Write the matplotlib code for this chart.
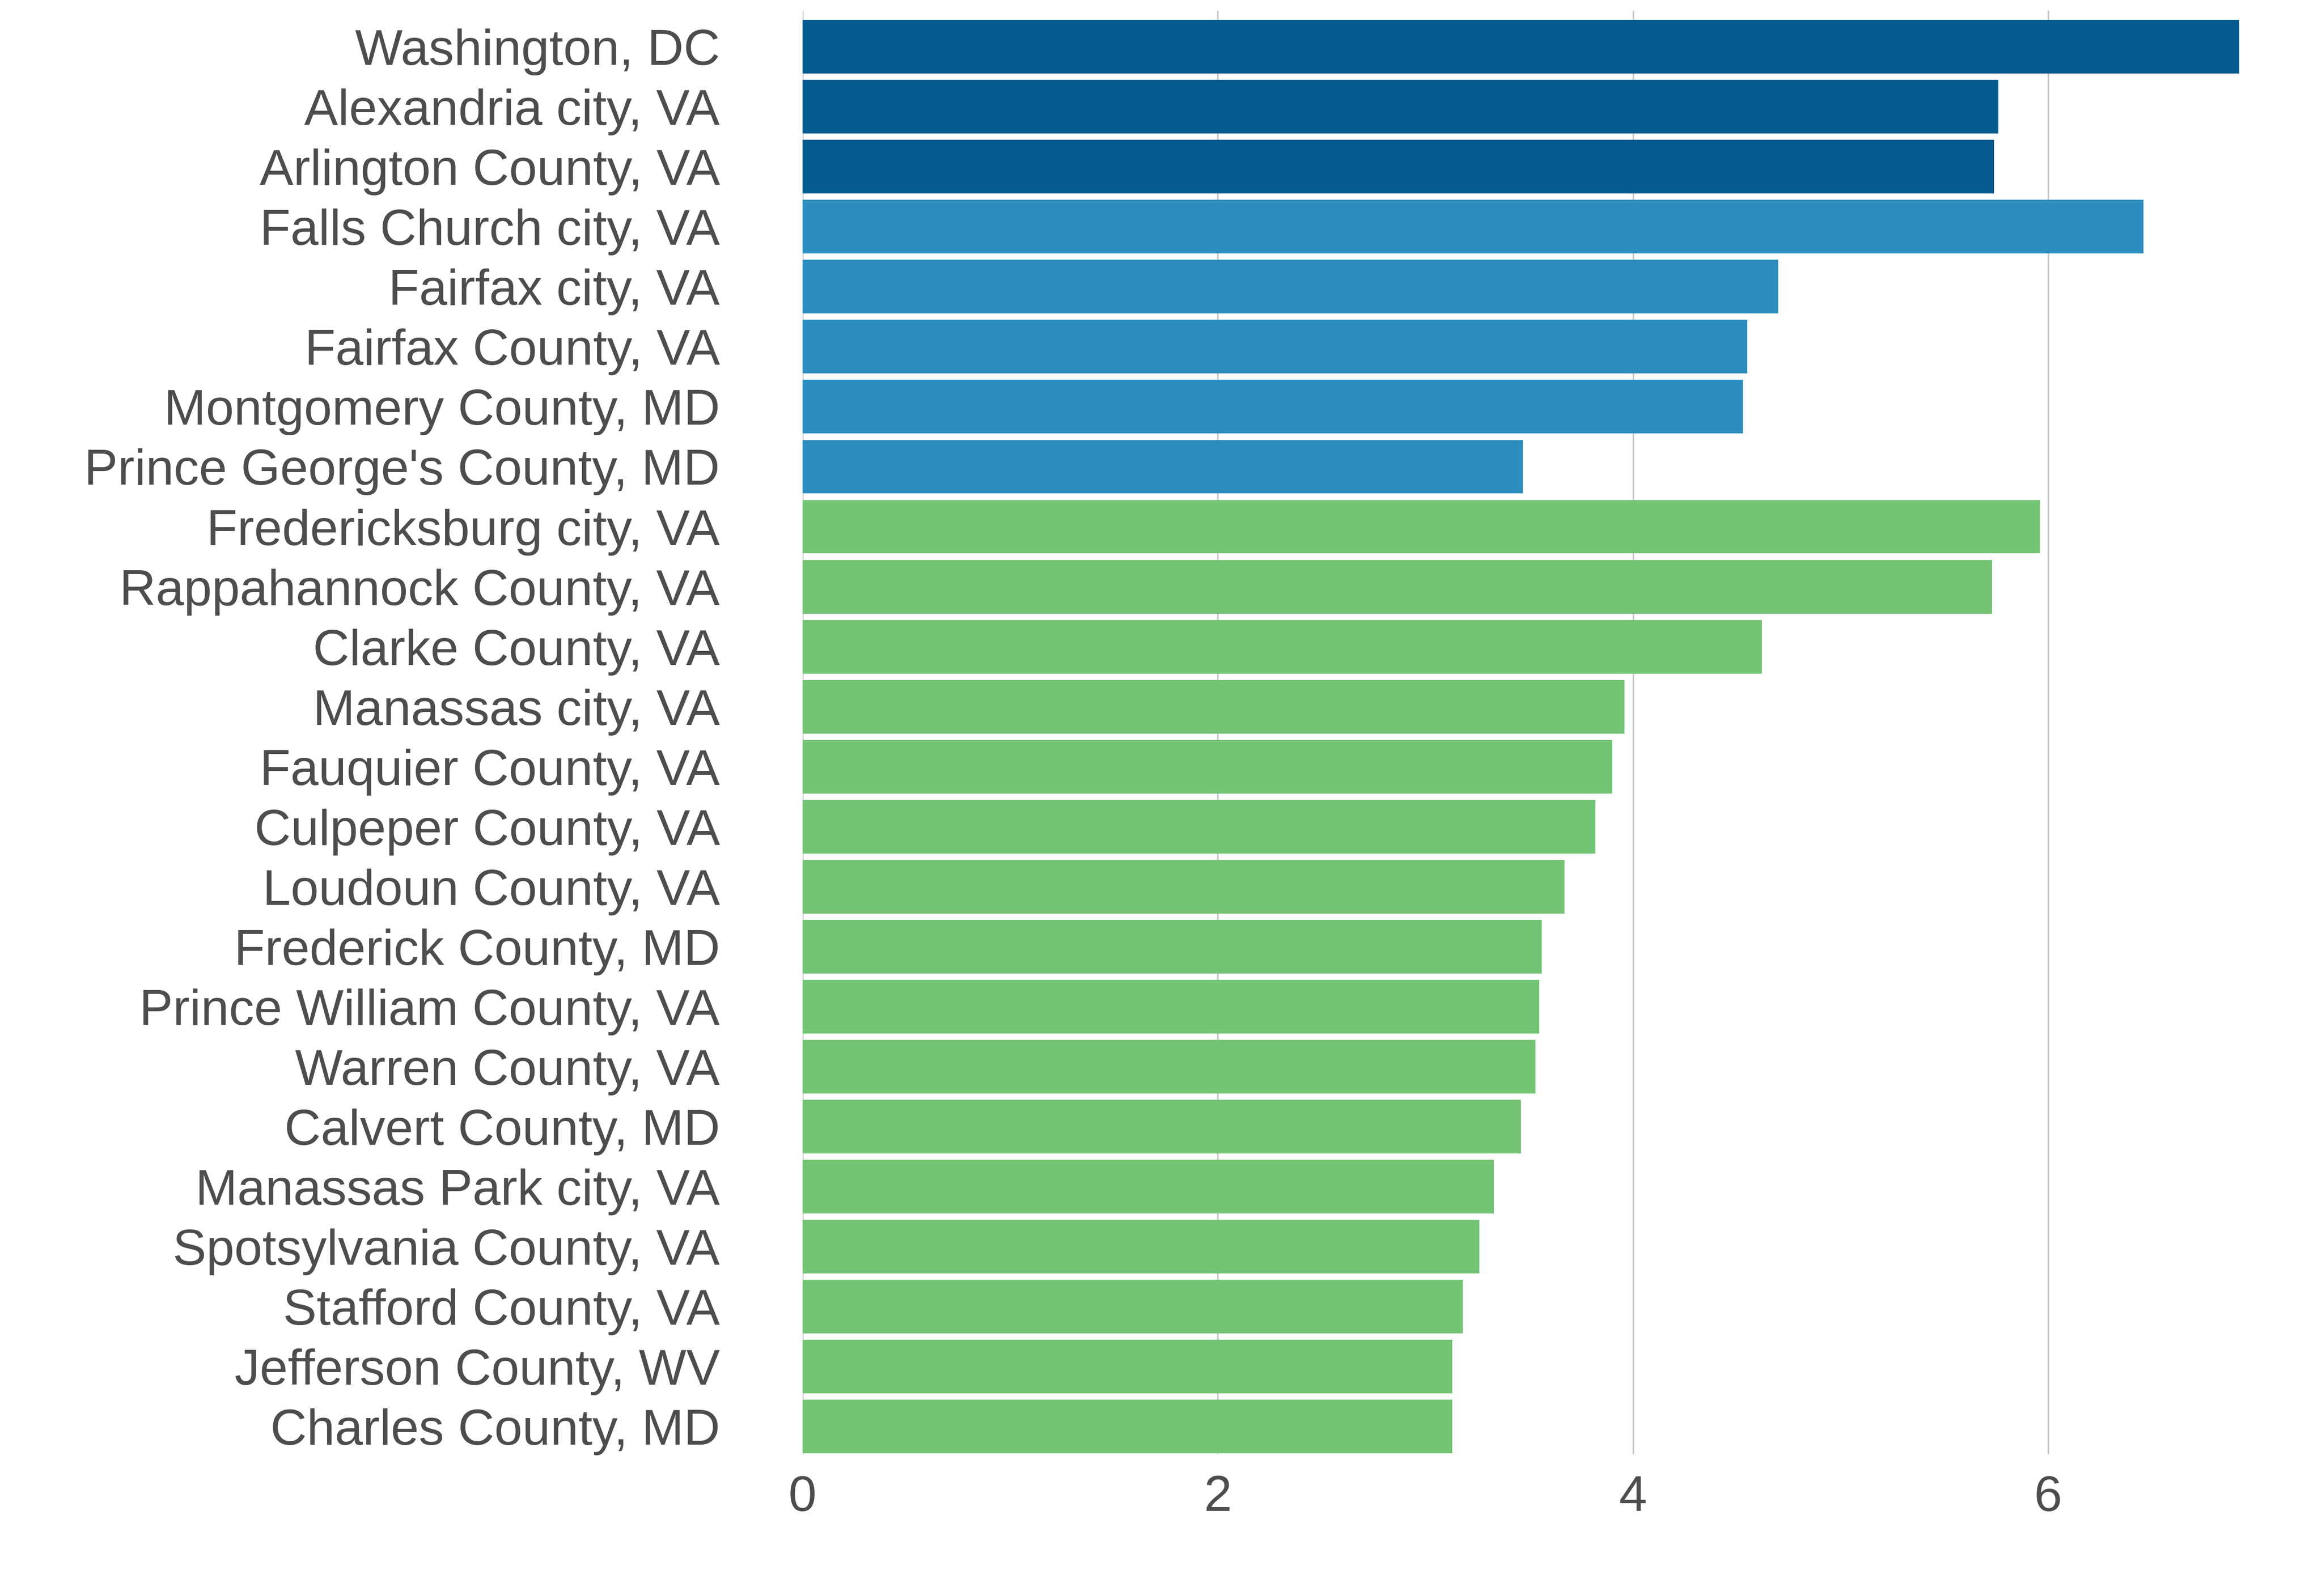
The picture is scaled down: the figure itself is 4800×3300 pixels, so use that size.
import numpy as np
import matplotlib.pyplot as plt

plt.rcParams['font.family'] = ['Liberation Sans', 'DejaVu Sans']

# counties, top to bottom
places = ["Washington, DC", "Alexandria city, VA", "Arlington County, VA",
          "Falls Church city, VA", "Fairfax city, VA", "Fairfax County, VA",
          "Montgomery County, MD", "Prince George's County, MD",
          "Fredericksburg city, VA", "Rappahannock County, VA", "Clarke County, VA",
          "Manassas city, VA", "Fauquier County, VA", "Culpeper County, VA",
          "Loudoun County, VA", "Frederick County, MD", "Prince William County, VA",
          "Warren County, VA", "Calvert County, MD", "Manassas Park city, VA",
          "Spotsylvania County, VA", "Stafford County, VA", "Jefferson County, WV",
          "Charles County, MD"]
values = [6.92, 5.76, 5.74,
          6.46, 4.70, 4.55, 4.53, 3.47,
          5.96, 5.73, 4.62, 3.96, 3.90, 3.82, 3.67, 3.56, 3.55,
          3.53, 3.46, 3.33, 3.26, 3.18, 3.13, 3.13]
groups = ["core"] * 3 + ["inner"] * 5 + ["outer"] * 16
group_colors = {"core": "#055a8e", "inner": "#2c8dbe", "outer": "#74c476"}

txt = "#4d4d4d"

fig = plt.figure(figsize=(16, 11), dpi=300)
ax = fig.add_axes([0.3456, 0.0888, 0.6187, 0.9045])

y = np.arange(len(places))
ax.barh(y, values, height=0.894, color=[group_colors[g] for g in groups], zorder=2)

ax.set_yticks(y)
ax.set_yticklabels(places)
ax.set_ylim(23.46, -0.6)
ax.set_xlim(0, max(values))
ax.set_xticks([0, 2, 4, 6])

ax.grid(axis='x', color='#c8c8c8', linewidth=0.8, zorder=0)
ax.set_axisbelow(True)
for s in ax.spines.values():
    s.set_visible(False)
ax.tick_params(axis='y', length=0, pad=41, labelsize=25, labelcolor=txt)
ax.tick_params(axis='x', length=0, pad=10, labelsize=25, labelcolor=txt)

fig.savefig("out.png", dpi=300)
